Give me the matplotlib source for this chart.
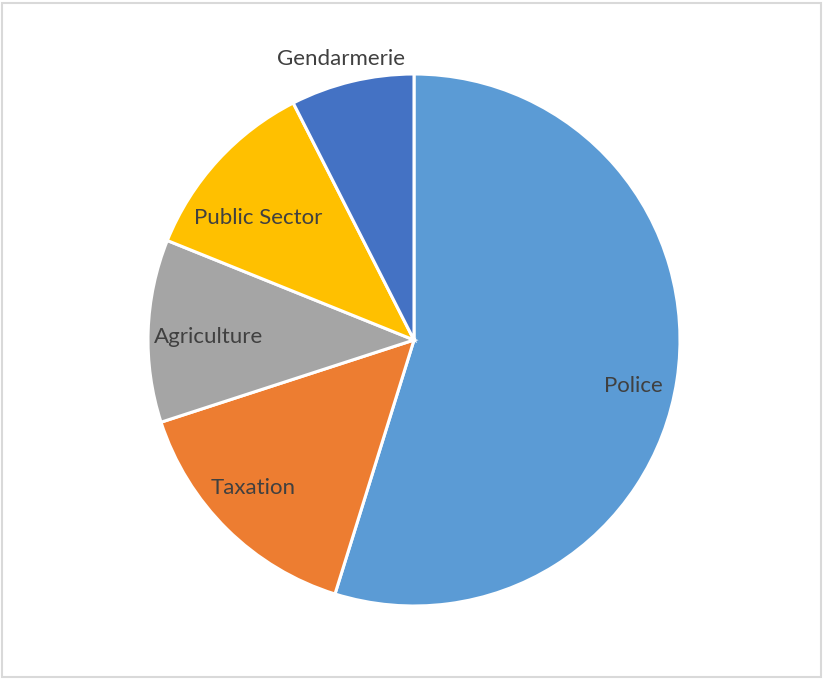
import numpy as np
import matplotlib.pyplot as plt

# share of cases by sector, clockwise from 12 o'clock
sectors = ['Police', 'Taxation', 'Agriculture', 'Public Sector', 'Gendarmerie']
shares = [54.8, 15.2, 11.1, 11.4, 7.5]
colors = ['#5B9BD5', '#ED7D31', '#A5A5A5', '#FFC000', '#4472C4']
# label placement: radius fraction and angle nudge (deg) from the wedge middle
label_r = [0.84, 0.817, 0.774, 0.747, 1.10]
label_dt = [-2.8, -3.0, 0.5, 4.0, 1.0]

plt.rcParams['font.family'] = ['Lato', 'DejaVu Sans']

fig = plt.figure(figsize=(8.23, 6.79), dpi=100)
ax = fig.add_axes([0, 0, 1, 1])

cx, cy, R = 414, 339, 266
wedges, _ = ax.pie(shares, colors=colors, startangle=90, counterclock=False,
                   center=(cx, cy), radius=R, frame=True,
                   wedgeprops=dict(edgecolor='white', linewidth=2.2))
ax.set_xlim(0, 823)
ax.set_ylim(0, 679)
ax.set_aspect('equal')
ax.axis('off')

for w, name, r, dt in zip(wedges, sectors, label_r, label_dt):
    mid = np.deg2rad((w.theta1 + w.theta2) / 2 + dt)
    ax.text(cx + r * R * np.cos(mid), cy + r * R * np.sin(mid), name,
            ha='center', va='center_baseline', fontsize=16, color='#404040')

# thin outer frame
fig.patches.append(plt.Rectangle((0.003, 0.003), 0.994, 0.993, transform=fig.transFigure,
                                 fill=False, edgecolor='#D9D9D9', linewidth=1.5))

fig.savefig('out.png', dpi=100)
